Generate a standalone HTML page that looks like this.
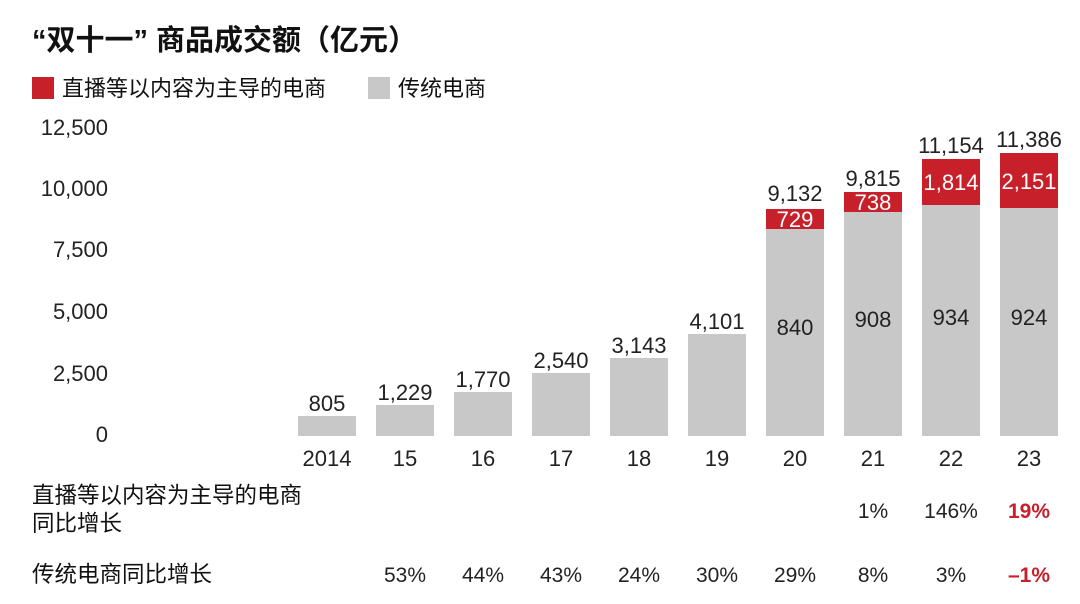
<!DOCTYPE html>
<html><head><meta charset="utf-8"><style>
body{margin:0;background:#fff;}
svg{display:block;font-family:"Liberation Sans","Noto Sans CJK SC",sans-serif;}
</style></head><body>
<svg width="1080" height="604" viewBox="0 0 1080 604">
<text x="32" y="50" font-size="29" font-weight="bold" fill="#111">“双十一” 商品成交额（亿元）</text>
<rect x="32" y="77" width="22" height="22" fill="#c8202a"/>
<text x="62" y="96" font-size="22" fill="#111">直播等以内容为主导的电商</text>
<rect x="368" y="77" width="22" height="22" fill="#c8c8c8"/>
<text x="398" y="96" font-size="22" fill="#111">传统电商</text>
<g font-size="22" fill="#222" text-anchor="end">
<text x="108" y="135">12,500</text>
<text x="108" y="196">10,000</text>
<text x="108" y="257">7,500</text>
<text x="108" y="319">5,000</text>
<text x="108" y="381">2,500</text>
<text x="108" y="442">0</text>
</g>
<g fill="#c8c8c8">
<rect x="298" y="416" width="58" height="20"/>
<rect x="376" y="405" width="58" height="31"/>
<rect x="454" y="392" width="58" height="44"/>
<rect x="532" y="373" width="58" height="63"/>
<rect x="610" y="358" width="58" height="78"/>
<rect x="688" y="334" width="58" height="102"/>
<rect x="766" y="229" width="58" height="207"/>
<rect x="844" y="212" width="58" height="224"/>
<rect x="922" y="205" width="58" height="231"/>
<rect x="1000" y="208" width="58" height="228"/>
</g>
<g fill="#c8202a">
<rect x="766" y="209" width="58" height="20"/>
<rect x="844" y="192" width="58" height="20"/>
<rect x="922" y="159" width="58" height="46"/>
<rect x="1000" y="153" width="58" height="55"/>
</g>
<g font-size="22" fill="#222" text-anchor="middle">
<text x="327" y="411">805</text>
<text x="405" y="400">1,229</text>
<text x="483" y="387">1,770</text>
<text x="561" y="368">2,540</text>
<text x="639" y="353">3,143</text>
<text x="717" y="329">4,101</text>
<text x="795" y="201">9,132</text>
<text x="873" y="186">9,815</text>
<text x="951" y="153">11,154</text>
<text x="1029" y="147">11,386</text>
<text x="795" y="335">840</text>
<text x="873" y="327">908</text>
<text x="951" y="325">934</text>
<text x="1029" y="325">924</text>
</g>
<g font-size="22" fill="#fff" text-anchor="middle">
<text x="795" y="227">729</text>
<text x="873" y="210">738</text>
<text x="951" y="190">1,814</text>
<text x="1029" y="189">2,151</text>
</g>
<g font-size="22" fill="#222" text-anchor="middle">
<text x="327" y="466">2014</text>
<text x="405" y="466">15</text>
<text x="483" y="466">16</text>
<text x="561" y="466">17</text>
<text x="639" y="466">18</text>
<text x="717" y="466">19</text>
<text x="795" y="466">20</text>
<text x="873" y="466">21</text>
<text x="951" y="466">22</text>
<text x="1029" y="466">23</text>
</g>
<g font-size="22.5" fill="#111">
<text x="32" y="503">直播等以内容为主导的电商</text>
<text x="32" y="531">同比增长</text>
<text x="32" y="582">传统电商同比增长</text>
</g>
<g font-size="21" fill="#222" text-anchor="middle">
<text x="873" y="518">1%</text>
<text x="951" y="518">146%</text>
<text x="1029" y="518" fill="#c8202a" font-weight="bold">19%</text>
<text x="405" y="582">53%</text>
<text x="483" y="582">44%</text>
<text x="561" y="582">43%</text>
<text x="639" y="582">24%</text>
<text x="717" y="582">30%</text>
<text x="795" y="582">29%</text>
<text x="873" y="582">8%</text>
<text x="951" y="582">3%</text>
<text x="1029" y="582" fill="#c8202a" font-weight="bold">–1%</text>
</g>
</svg>
</body></html>
